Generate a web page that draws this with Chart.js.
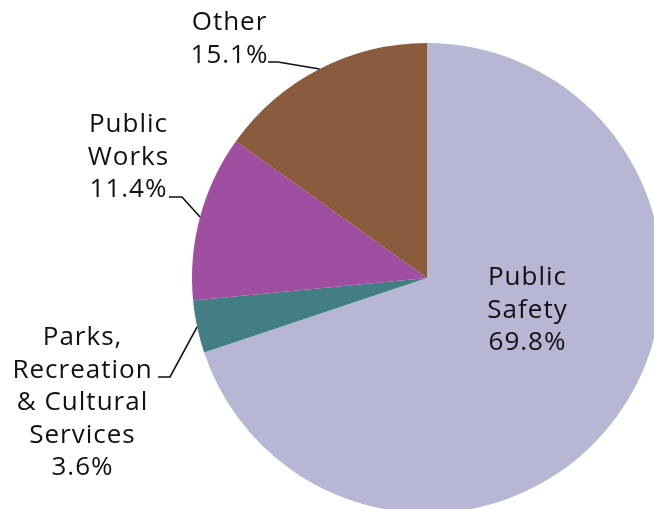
<!DOCTYPE html>
<html>
<head>
<meta charset="utf-8">
<script src="https://cdn.jsdelivr.net/npm/chart.js@4/dist/chart.umd.min.js"></script>
<style>
    html, body { margin: 0; padding: 0; background: #ffffff; overflow: hidden; width: 654px; height: 509px; }
    #budgetChart { position: absolute; left: 0; top: 0; }
</style>
</head>
<body>
<canvas id="budgetChart" width="700" height="560"></canvas>
<script>
// General fund spending by department, percent of total
const departments = ["Public Safety", "Parks, Recreation & Cultural Services", "Public Works", "Other"];
const shares = [69.8, 3.6, 11.4, 15.1];
const sliceColors = ["#b7b6d4", "#437e84", "#a04ea1", "#8a5c3d"];

// How each label is broken into lines
const labelLines = [
    ["Public", "Safety"],
    ["Parks,", "Recreation", "& Cultural", "Services"],
    ["Public", "Works"],
    ["Other"],
];

// Label block placement: centre x, first baseline y, and where the leader elbow sits
const labelSpots = [
    { x: 527, y: 285, inside: true },
    { x: 82, y: 345, elbowY: 377, lineFrom: 158, elbowX: 170 },
    { x: 128, y: 132, elbowY: 197, lineFrom: 169, elbowX: 182 },
    { x: 229, y: 30, elbowY: 62, lineFrom: 268, elbowX: 278 },
];

const lineHeight = 32.5;
const labelFont = "26px 'Open Sans', sans-serif";

const sliceLabels = {
    id: "sliceLabels",
    afterDraw(chart) {
        const ctx = chart.ctx;
        const arcs = chart.getDatasetMeta(0).data;
        ctx.save();
        ctx.font = labelFont;
        ctx.letterSpacing = "1px";
        ctx.fillStyle = "#111111";
        ctx.textAlign = "center";
        ctx.textBaseline = "alphabetic";

        arcs.forEach((arc, i) => {
            const spot = labelSpots[i];
            const lines = labelLines[i].concat([shares[i].toFixed(1) + "%"]);
            lines.forEach((text, n) => {
                ctx.fillText(text, spot.x + 0.5, spot.y + n * lineHeight);
            });

            if (spot.inside) {
                return;
            }

            // leader runs from the label to the slice edge at its middle angle
            const { x, y, startAngle, endAngle, outerRadius } = arc.getProps(["x", "y", "startAngle", "endAngle", "outerRadius"], true);
            const mid = (startAngle + endAngle) / 2;
            const edgeX = x + Math.cos(mid) * outerRadius;
            const edgeY = y + Math.sin(mid) * outerRadius;

            ctx.beginPath();
            ctx.strokeStyle = "#111111";
            ctx.lineWidth = 1.6;
            ctx.moveTo(spot.lineFrom, spot.elbowY);
            ctx.lineTo(spot.elbowX, spot.elbowY);
            ctx.lineTo(edgeX, edgeY);
            ctx.stroke();
        });
        ctx.restore();
    },
};

new Chart(document.getElementById("budgetChart"), {
    type: "pie",
    data: {
        labels: departments,
        datasets: [
            {
                data: shares,
                backgroundColor: sliceColors,
                borderWidth: 0,
                hoverOffset: 0,
            },
        ],
    },
    options: {
        responsive: false,
        animation: false,
        layout: {
            padding: { left: 192, top: 43, right: 38, bottom: 47 },
        },
        plugins: {
            legend: { display: false },
            tooltip: { enabled: false },
        },
    },
    plugins: [sliceLabels],
});
</script>
</body>
</html>
